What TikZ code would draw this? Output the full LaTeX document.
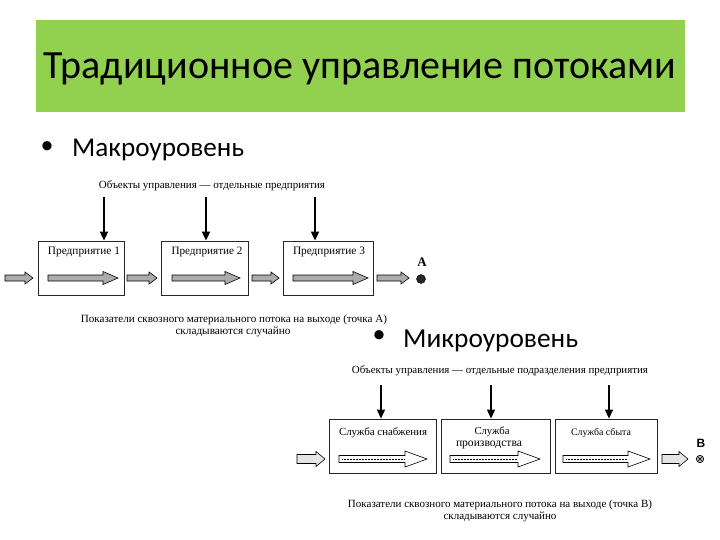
\documentclass[tikz,border=0pt]{standalone}
\usepackage{fontspec}
\usepackage{graphicx}
\setmainfont{Liberation Serif}
\newfontfamily\calfont{Carlito}
\newfontfamily\arialfont{Liberation Sans}
\usetikzlibrary{arrows.meta,patterns}
\definecolor{titlegreen}{HTML}{92D050}
\newcommand{\fitw}[2]{\resizebox{#1pt}{!}{#2}}
% block arrow: #1 style, #2 x1, #3 x2, #4 y, #5 shaft half, #6 head half, #7 head length
\newcommand{\blockarrow}[7]{%
  \draw[#1] (#2,{#4-#5}) -- ({#3-#7},{#4-#5}) -- ({#3-#7},{#4-#6}) -- (#3,#4)
    -- ({#3-#7},{#4+#6}) -- ({#3-#7},{#4+#5}) -- (#2,{#4+#5}) -- cycle;}
\newcommand{\hollowarrow}[7]{%
  \blockarrow{#1}{#2}{#3}{#4}{#5}{#6}{#7}%
  \draw[densely dotted,line width=0.5pt] ({#2+3},#4) -- ({#3-#7-1},#4);}
\tikzset{
  entbox/.style={draw=black!85,line width=0.8pt,fill=white,inner sep=0pt},
  darrow/.style={draw=black,line width=0.6pt,fill=gray!65},
  larrow/.style={draw=black,line width=0.6pt,fill=gray!20},
  harrow/.style={draw=black,line width=0.6pt,fill=white},
  ctrlA/.style={line width=1.8pt,-{Triangle[length=9pt,width=8pt]}},
  ctrlB/.style={line width=1.2pt,-{Triangle[length=9pt,width=8pt]}},
  smalltext/.style={inner sep=0pt,font=\fontsize{9}{10}\selectfont},
}
\begin{document}
\begin{tikzpicture}[x=1pt,y=-1pt]
\useasboundingbox (0,0) rectangle (720,540);
\fill[white] (0,0) rectangle (720,540);
% title
\node[fill=titlegreen,minimum width=649pt,minimum height=92pt,inner sep=0pt] (band) at (360.5,66) {};
\node[anchor=base,inner sep=0pt,font=\calfont\fontsize{40}{44}\selectfont] (title) at (360,79) {\fitw{632}{Традиционное управление потоками}};
% bullets
\node[inner sep=0pt,font=\calfont\fontsize{26}{30}\selectfont] (bul1) at (47,148) {•};
\node[anchor=base west,inner sep=0pt,font=\calfont\fontsize{26}{30}\selectfont] (macro) at (72,157) {\fitw{172}{Макроуровень}};
\node[inner sep=0pt,font=\calfont\fontsize{26}{30}\selectfont] (bul2) at (379,337) {•};
\node[anchor=base west,inner sep=0pt,font=\calfont\fontsize{26}{30}\selectfont] (micro) at (403,347) {\fitw{175}{Микроуровень}};

% ===== macro diagram =====
\node[smalltext] (hA) at (212,186) {\fitw{226}{Объекты управления — отдельные предприятия}};
\node[entbox,minimum width=86pt,minimum height=54pt] (b1) at (81,268) {};
\node[entbox,minimum width=87pt,minimum height=54pt] (b2) at (204.5,268) {};
\node[entbox,minimum width=90pt,minimum height=54pt] (b3) at (328,268) {};
\node[smalltext] (l1) at (84,252) {\fitw{72}{Предприятие 1}};
\node[smalltext] (l2) at (207,252) {\fitw{71}{Предприятие 2}};
\node[smalltext] (l3) at (329,252) {\fitw{72}{Предприятие 3}};
\coordinate (t1) at (104,197);
\coordinate (t2) at (206,197);
\coordinate (t3) at (315,197);
\draw[ctrlA] (t1) -- (t1 |- b1.north);
\draw[ctrlA] (t2) -- (t2 |- b2.north);
\draw[ctrlA] (t3) -- (t3 |- b3.north);
\blockarrow{darrow}{5}{33}{278}{3}{6}{8}
\blockarrow{darrow}{48}{118}{278}{3}{6.5}{15}
\blockarrow{darrow}{127}{157}{278}{3}{6}{8}
\blockarrow{darrow}{172}{240}{278}{3}{6.5}{15}
\blockarrow{darrow}{252}{279}{278}{3}{6}{8}
\blockarrow{darrow}{293}{368}{278}{3}{6.5}{15}
\blockarrow{darrow}{377}{409}{278}{3}{6}{8}
\node[inner sep=0pt,font=\bfseries\fontsize{13}{14}\selectfont] (A) at (422,262) {A};
\node[circle,fill=black!85,draw=black,minimum size=9pt,inner sep=0pt] (pA) at (421,279) {};
\node[smalltext] (fA1) at (234,320) {\fitw{306}{Показатели сквозного материального потока на выходе (точка А)}};
\node[smalltext] (fA2) at (233,332) {\fitw{115}{складываются случайно}};

% ===== micro diagram =====
\node[smalltext] (hB) at (500,371) {\fitw{296}{Объекты управления — отдельные подразделения предприятия}};
\node[entbox,minimum width=107pt,minimum height=54pt] (b4) at (382.5,446) {};
\node[entbox,minimum width=109pt,minimum height=54pt] (b5) at (495.5,446) {};
\node[entbox,minimum width=102pt,minimum height=54pt] (b6) at (606,446) {};
\node[smalltext] (l4) at (383,433) {\fitw{88}{Служба снабжения}};
\node[smalltext] (l5a) at (492,432) {\fitw{35}{Служба}};
\node[smalltext] (l5b) at (489,445) {\fitw{66}{производства}};
\node[smalltext] (l6) at (601,433) {\fitw{60}{Служба сбыта}};
\coordinate (t4) at (381,385);
\coordinate (t5) at (491,385);
\coordinate (t6) at (609,385);
\draw[ctrlB] (t4) -- (t4 |- b4.north);
\draw[ctrlB] (t5) -- (t5 |- b5.north);
\draw[ctrlB] (t6) -- (t6 |- b6.north);
\blockarrow{larrow}{297}{325}{459}{4.5}{7.5}{9}
\hollowarrow{harrow}{339}{427}{459}{3.5}{8}{22}
\hollowarrow{harrow}{450}{540}{459}{3.5}{8}{22}
\hollowarrow{harrow}{563}{650}{459}{3.5}{8}{22}
\blockarrow{larrow}{662}{688}{459}{4.5}{7.5}{9}
\node[inner sep=0pt,font=\arialfont\bfseries\fontsize{12}{13}\selectfont] (B) at (701,443) {B};
\node[circle,fill=gray!55,draw=black,line width=0.6pt,minimum size=7.5pt,inner sep=0pt] (pB) at (700,459) {};
\draw[line width=0.4pt] (pB.north west) -- (pB.south east) (pB.north east) -- (pB.south west);
\node[smalltext] (fB1) at (500,505) {\fitw{304}{Показатели сквозного материального потока на выходе (точка В)}};
\node[smalltext] (fB2) at (500,517) {\fitw{113}{складываются случайно}};
\end{tikzpicture}
\end{document}
